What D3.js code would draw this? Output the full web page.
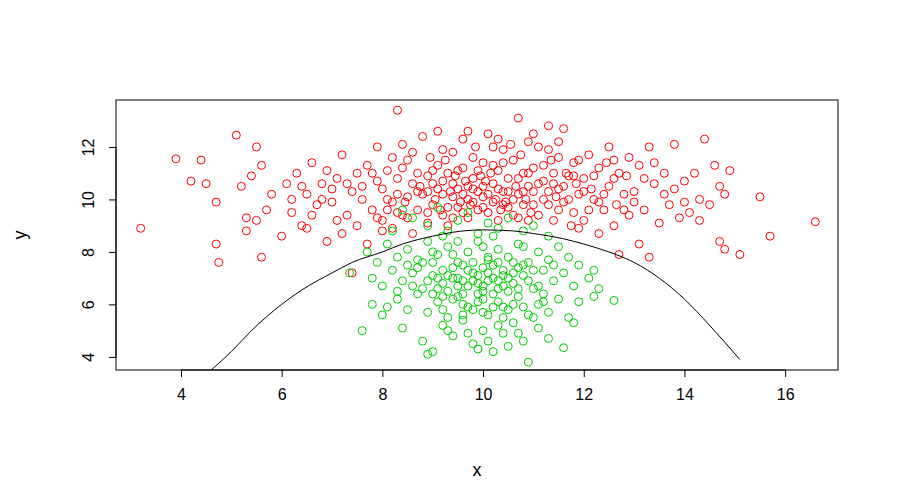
<!DOCTYPE html>
<html><head><meta charset="utf-8">
<script src="https://cdn.jsdelivr.net/npm/d3@7"></script>
<style>body{margin:0;background:#fff}text{font-family:"Liberation Sans",Arial,sans-serif}</style>
</head><body><svg id="c" width="900" height="500"></svg>
<script>
const red = [[3.2,8.9],[3.9,11.55],[4.2,10.7],[4.4,11.5],[4.5,10.6],[4.7,9.9],[4.7,8.3],[4.75,7.6],[5.1,12.45],[16.6,9.15],[15.7,8.6],[15.5,10.1],[15.1,7.9],[8.3,13.4],
[5.2,10.5],[5.3,9.3],[5.4,10.9],[5.5,12.0],[5.6,11.3],[5.6,7.8],[5.7,9.6],[5.5,9.2],[5.3,8.8],[5.8,10.2],[6.0,8.6],[6.1,10.6],[6.2,9.5],[6.3,11.0],[6.4,9.0],[6.5,10.2],[6.5,8.9],[6.6,11.4],[6.7,9.8],[6.8,10.6],[6.9,8.4],[6.9,11.1],[6.2,10.0],[6.6,9.4],
[7.0,9.9],[7.1,10.8],[7.2,8.7],[7.2,11.7],[7.3,9.4],[7.4,10.3],[7.4,7.2],[7.5,11.0],[7.5,9.0],[7.6,10.0],[7.7,8.3],[7.7,11.3],[7.8,9.6],[7.9,10.7],[7.9,12.0],[7.3,10.6],[7.1,9.2],
[8.0,9.2],[8.0,10.4],[8.1,11.1],[8.2,8.9],[8.2,9.9],[8.3,10.8],[8.4,12.1],[8.4,9.4],[8.5,10.1],[8.5,11.5],[8.6,8.7],[8.6,10.6],[8.7,9.6],[8.7,11.0],[8.8,10.2],[8.8,12.4],[8.9,9.1],[8.9,10.9],[8.1,10.0],[8.3,9.5],[8.6,11.8],[8.45,9.9],[8.75,10.5],[8.95,11.6],
[9.0,9.8],[9.0,10.6],[9.1,11.3],[9.1,12.6],[9.2,9.4],[9.2,10.2],[9.3,11.0],[9.3,9.0],[9.4,10.6],[9.4,11.8],[9.5,9.7],[9.5,10.4],[9.6,11.2],[9.6,12.3],[9.7,9.3],[9.7,10.0],[9.8,10.8],[9.8,11.6],[9.9,9.6],[9.9,10.3],[9.05,10.0],[9.25,11.5],[9.45,10.9],[9.55,9.9],[9.65,10.7],[9.75,9.8],[9.85,12.0],[9.95,10.9],[9.35,10.3],[9.15,9.6],
[10.0,10.1],[10.0,11.4],[10.1,9.5],[10.1,12.5],[10.2,10.6],[10.2,9.9],[10.3,11.1],[10.3,9.2],[10.4,10.3],[10.4,11.9],[10.5,9.7],[10.5,10.8],[10.6,11.5],[10.6,9.4],[10.7,10.2],[10.7,13.1],[10.8,11.0],[10.8,9.8],[10.9,10.5],[10.9,12.2],[10.05,10.7],[10.25,10.0],[10.45,9.9],[10.65,10.5],[10.85,10.0],[10.15,11.0],[10.35,9.6],[10.55,12.1],[10.75,11.7],[10.95,9.5],
[11.0,10.3],[11.0,11.2],[11.1,9.4],[11.1,12.0],[11.2,10.7],[11.3,9.8],[11.3,12.8],[11.4,11.0],[11.4,9.2],[11.5,10.4],[11.5,11.6],[11.6,9.9],[11.6,12.7],[11.7,10.9],[11.8,9.5],[11.8,11.4],[11.9,10.2],[11.9,8.9],[11.2,10.0],[11.45,10.1],[11.65,11.0],[11.85,10.6],[11.35,11.5],[11.75,9.0],
[12.0,10.8],[12.0,9.2],[12.1,11.7],[12.2,10.0],[12.3,8.7],[12.3,11.2],[12.4,9.6],[12.5,10.5],[12.5,12.0],[12.6,9.0],[12.7,11.0],[12.7,7.9],[12.8,10.2],[12.9,9.4],[12.9,11.6],[12.15,10.4],[12.45,11.4],[12.65,9.8],[12.85,10.9],
[13.0,10.3],[13.1,8.3],[13.1,11.3],[13.2,9.6],[13.3,12.0],[13.3,7.8],[13.4,10.6],[13.5,9.1],[13.6,11.0],[13.7,9.8],[13.8,10.4],[13.8,12.1],[13.9,9.3],[13.2,10.8],[13.6,10.2],
[14.0,10.7],[14.1,9.5],[14.2,11.0],[14.3,10.0],[14.4,12.3],[14.5,9.8],[14.6,11.3],[14.7,10.5],[14.7,8.4],[14.8,8.1],[14.8,10.2],[14.9,11.1],[14.3,9.2]];
const redExtra = [[8.1,9.6],[8.3,10.2],[8.5,9.3],[8.7,10.3],[8.9,9.5],[8.9,10.3],[9.0,11.1],[9.1,10.4],[9.2,10.7],[9.3,9.7],[9.4,10.1],[9.5,11.1],[9.6,10.2],[9.7,10.5],[9.8,9.9],[9.8,10.4],[9.9,11.1],[10.0,9.7],[10.0,10.5],[10.1,10.2],[10.2,11.3],[10.3,10.4],[10.4,9.8],[10.5,10.3],[10.6,10.0],[10.7,10.8],[10.8,10.3],[10.9,11.0],[11.0,9.8],[11.1,10.6],[11.2,11.3],[11.3,10.3],[11.4,10.6],[11.5,9.6],[11.6,10.5],[11.7,10.0],[11.8,10.9],[11.9,11.5],[12.0,10.3],[12.1,9.6],[12.2,10.9],[12.4,10.2],[12.6,10.8],[12.8,9.6],[13.0,9.9],[9.2,11.9],[9.6,9.5],[10.2,12.0],[10.4,11.4],[10.9,9.2],[11.3,11.9],[8.4,11.2],[8.2,11.6],[7.6,10.5],[7.8,11.0],[7.0,10.4],[12.3,9.9],[12.6,11.5],[9.4,9.3],[10.7,9.3],[11.5,12.2],[11.0,12.5],[9.7,12.6],[10.3,12.3],[8.0,8.8],[7.9,9.3],[6.8,10.0],[6.4,10.5],[13.4,11.4],[14.0,9.9]];
const green = [[8.4,9.6],[8.6,9.3],[8.9,9.0],[9.1,9.7],[9.3,8.8],[9.5,9.2],[9.7,9.5],[9.9,8.7],[10.1,9.1],[10.3,8.9],[10.5,9.3],[10.8,8.8],[11.0,9.0],[11.3,8.6],[8.2,8.8],
[7.7,8.0],[7.9,7.6],[8.1,8.3],[8.3,7.8],[8.5,8.1],[8.7,7.7],[8.9,8.4],[9.1,7.9],[9.3,8.2],[9.5,7.6],[9.7,8.0],[9.9,8.4],[10.1,7.7],[10.3,8.1],[10.5,7.8],[10.7,8.3],[10.9,7.6],[11.1,8.0],[11.3,7.7],[11.5,8.2],[11.7,7.8],[11.9,7.5],[12.2,7.3],[9.0,8.0],[10.0,8.2],[10.6,7.6],[9.4,7.9],
[7.35,7.2],[7.8,7.0],[8.0,6.7],[8.2,7.3],[8.4,6.9],[8.6,7.2],[8.8,6.6],[9.0,7.1],[9.2,6.8],[9.4,7.4],[9.6,6.9],[9.8,7.2],[10.0,6.7],[10.2,7.0],[10.4,7.3],[10.6,6.8],[10.8,7.1],[11.0,6.6],[11.2,7.3],[11.4,6.9],[11.6,7.2],[11.8,6.7],[12.1,7.0],[12.3,6.6],[9.1,6.6],[9.5,7.0],[9.9,6.8],[10.3,6.6],[10.7,7.4],[9.7,7.3],[10.1,7.2],[9.3,7.1],[8.7,7.4],[10.5,7.0],
[7.8,6.0],[8.0,5.6],[8.3,6.2],[8.5,5.8],[8.7,6.4],[8.9,5.7],[9.1,6.1],[9.3,5.5],[9.5,6.3],[9.7,5.9],[9.9,6.4],[10.1,5.6],[10.3,6.1],[10.5,5.8],[10.7,6.3],[10.9,5.6],[11.1,6.0],[11.3,5.7],[11.5,6.2],[11.7,5.5],[11.9,6.1],[12.2,6.3],[12.6,6.15],[9.6,6.0],[10.0,6.2],[10.4,5.9],[9.2,6.3],
[7.6,5.0],[8.4,5.1],[8.8,4.6],[9.0,4.2],[9.2,5.2],[9.4,4.8],[9.6,5.4],[9.8,4.5],[10.0,5.0],[10.2,4.2],[10.4,4.9],[10.6,5.3],[10.8,4.6],[10.9,3.8],[11.1,5.1],[11.3,4.7],[11.6,4.35],[11.8,5.3],[8.9,4.1],[10.1,4.6]];
const greenExtra = [[9.0,7.6],[9.2,7.3],[9.3,6.5],[9.4,7.0],[9.5,6.7],[9.6,7.5],[9.6,6.4],[9.7,6.7],[9.8,6.9],[9.8,7.6],[9.9,7.1],[9.9,6.1],[10.0,7.4],[10.0,6.5],[10.1,6.9],[10.1,7.8],[10.2,6.4],[10.2,7.5],[10.3,6.9],[10.3,7.6],[10.4,6.7],[10.4,7.1],[10.5,6.5],[10.6,7.2],[10.7,6.6],[10.8,7.5],[10.9,6.9],[11.0,7.3],[11.1,6.7],[11.2,6.4],[9.1,7.0],[9.0,6.4],[8.9,6.9],[8.8,7.6],[8.6,6.7],[8.5,7.5],[9.2,5.8],[9.4,6.2],[9.6,5.6],[9.8,5.8],[10.0,5.7],[10.2,5.9],[10.4,5.5],[10.6,6.0],[10.8,5.9],[11.0,5.5],[9.3,5.0],[9.7,4.9],[10.3,5.2],[10.7,4.9],[9.5,8.4],[10.2,8.6],[10.8,8.2],[9.2,8.6],[11.4,7.5],[11.2,6.1],[8.3,6.5],[8.1,5.9],[9.9,4.3],[10.5,4.4]];
const curve = [[4.6,3.5],[5.0,4.2],[5.4,5.0],[6.0,6.0],[6.4,6.55],[7.0,7.2],[7.4,7.6],[8.0,8.0],[8.4,8.3],[9.0,8.6],[9.4,8.75],[10.0,8.84],[10.6,8.8],[11.0,8.7],[11.6,8.5],[12.0,8.3],[12.5,8.0],[13.0,7.6],[13.5,7.0],[14.0,6.2],[14.5,5.2],[15.1,3.9]];
const xTicks = [4,6,8,10,12,14,16];
const yTicks = [4,6,8,10,12];

const svg = d3.select("#c");
const L=116,R=838,T=100,B=370;
const x = d3.scaleLinear().domain([2.71,17.05]).range([L,R]);
const y = d3.scaleLinear().domain([3.5,13.79]).range([B,T]);

svg.append("g").selectAll("circle").data(red.concat(redExtra)).join("circle")
 .attr("cx",d=>x(d[0])).attr("cy",d=>y(d[1])).attr("r",4)
 .attr("fill","none").attr("stroke","#ff0000").attr("stroke-width",1);
svg.append("g").selectAll("circle").data(green.concat(greenExtra)).join("circle")
 .attr("cx",d=>x(d[0])).attr("cy",d=>y(d[1])).attr("r",4)
 .attr("fill","none").attr("stroke","#00cd00").attr("stroke-width",1);
svg.append("path").datum(curve).attr("fill","none").attr("stroke","#000").attr("stroke-width",1)
 .attr("d",d3.line().x(d=>x(d[0])).y(d=>y(d[1])).curve(d3.curveMonotoneX));
svg.append("rect").attr("x",L).attr("y",T).attr("width",R-L).attr("height",B-T).attr("fill","none").attr("stroke","#000");

const gx = svg.append("g").attr("transform",`translate(0,${B})`)
 .call(d3.axisBottom(x).tickValues(xTicks).tickSize(7).tickPadding(12).tickSizeOuter(0));
gx.select(".domain").attr("d",`M${x(4)},0H${x(16)}`);
gx.selectAll("text").attr("font-size",16).attr("fill","#000").style("font-family","Liberation Sans");
const gy = svg.append("g").attr("transform",`translate(${L},0)`)
 .call(d3.axisLeft(y).tickValues(yTicks).tickSize(7).tickSizeOuter(0));
gy.select(".domain").attr("d",`M0,${y(4)}V${y(12)}`);
gy.selectAll(".tick text").attr("font-size",16).attr("fill","#000").style("font-family","Liberation Sans")
 .attr("transform","rotate(-90)").attr("x",0).attr("y",-22).attr("dy","0").attr("text-anchor","middle");
svg.append("text").attr("x",(L+R)/2).attr("y",476).attr("text-anchor","middle").attr("font-size",18).text("x");
svg.append("text").attr("transform","translate(26,235) rotate(-90)").attr("text-anchor","middle").attr("font-size",18).text("y");
</script></body></html>
